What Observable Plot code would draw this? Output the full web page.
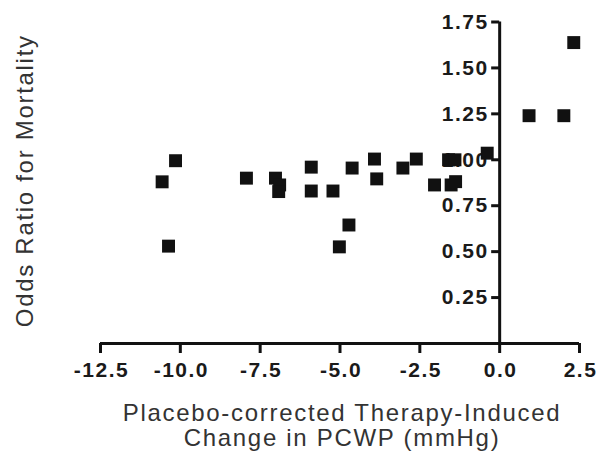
<!DOCTYPE html>
<html>
<head>
<meta charset="utf-8">
<script src="https://cdn.jsdelivr.net/npm/d3@7"></script>
<script src="https://cdn.jsdelivr.net/npm/@observablehq/plot@0.6"></script>
<style>
  html, body { margin: 0; padding: 0; background: #fff; }
  #chart svg { display: block; }
</style>
</head>
<body>
<div id="chart"></div>
<script>
// Data
const pcwpChange = [-10.57, -10.15, -10.37, -7.93, -7.02, -6.89, -6.92, -5.9, -5.9, -5.22, -5.02, -4.72, -4.62, -3.92, -3.85, -3.03, -2.61, -2.04, -1.6, -1.4, -1.52, -1.38, -0.39, 0.92, 2.01, 2.32];
const oddsRatio  = [0.88, 0.995, 0.53, 0.90, 0.90, 0.863, 0.827, 0.96, 0.83, 0.83, 0.526, 0.645, 0.955, 1.004, 0.896, 0.955, 1.004, 0.863, 1.0, 1.0, 0.863, 0.881, 1.036, 1.24, 1.24, 1.638];

const xTicks = [-12.5, -10, -7.5, -5, -2.5, 0, 2.5];
const xTickLabels = ["-12.5", "-10.0", "-7.5", "-5.0", "-2.5", "0.0", "2.5"];
const yTicks = [0.25, 0.5, 0.75, 1.0, 1.25, 1.5, 1.75];
const yTickLabels = ["0.25", "0.50", "0.75", "1.00", "1.25", "1.50", "1.75"];

const xTitle = "Placebo-corrected Therapy-Induced\nChange in PCWP (mmHg)";
const yTitle = "Odds Ratio for Mortality";

const points = pcwpChange.map((x, i) => ({x, y: oddsRatio[i]}));

const font = "'Liberation Sans', Arial, Helvetica, sans-serif";

const chart = Plot.plot({
  width: 608,
  height: 452,
  marginLeft: 100,
  marginRight: 29,
  marginTop: 21.5,
  marginBottom: 109,
  style: {fontFamily: font, background: "#fff"},
  x: {domain: [-12.5, 2.5], axis: null},
  y: {domain: [0, 1.75], axis: null},
  marks: [
    // axis lines
    Plot.ruleY([0], {x1: -12.5, x2: 2.5, stroke: "#111", strokeWidth: 3}),
    Plot.ruleX([0], {y1: 0, y2: 1.75, stroke: "#111", strokeWidth: 3}),
    // x ticks
    Plot.ruleX(xTicks, {x: d => d, y1: 0, y2: 0, insetBottom: -10, stroke: "#111", strokeWidth: 3}),
    // y ticks
    Plot.ruleY(yTicks, {y: d => d, x1: 0, x2: 0, insetLeft: -8, stroke: "#111", strokeWidth: 3}),
    // tick labels
    Plot.text(xTicks, {x: d => d, y: 0, text: (d, i) => xTickLabels[i], dy: 27, dx: 1, fontSize: 21, fontWeight: "bold", fill: "#1a1a1a", className: "ticklab"}),
    Plot.text(yTicks, {x: 0, y: d => d, text: (d, i) => yTickLabels[i], textAnchor: "end", dx: -11, fontSize: 21, fontWeight: "bold", fill: "#1a1a1a", className: "ticklab"}),
    // axis titles
    Plot.text([xTitle], {frameAnchor: "bottom", lineAnchor: "top", dy: 60, dx: 2, fontSize: 24, lineHeight: 1.04, fill: "#333", className: "axtitle"}),
    Plot.text([yTitle], {frameAnchor: "left", textAnchor: "middle", rotate: -90, dx: -75, dy: -2, fontSize: 24, fill: "#333", className: "axtitle"}),
    // points
    Plot.dot(points, {x: "x", y: "y", symbol: "square", r: 7.3, fill: "#111", stroke: "none"})
  ]
});

d3.select(chart).selectAll(".axtitle").style("letter-spacing", "1.7px");
d3.select(chart).selectAll(".ticklab").style("letter-spacing", "1.5px");

document.getElementById("chart").appendChild(chart);
</script>
</body>
</html>
